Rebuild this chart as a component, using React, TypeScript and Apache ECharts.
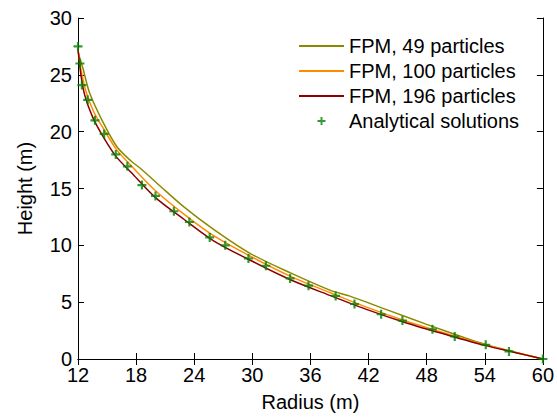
import React, { useEffect, useRef } from "react";
import * as echarts from "echarts";

const xTicks = [12, 18, 24, 30, 36, 42, 48, 54, 60];
const yTicks = [0, 5, 10, 15, 20, 25, 30];

const fpm49: [number, number][] = [
  [12, 27.0], [12.5, 25.6], [13.2, 23.4], [14.6, 20.8], [16, 18.7], [17.5, 17.4],
  [18.4, 16.8], [20.5, 15.2], [22.9, 13.4], [26, 11.4], [29.75, 9.3], [34, 7.55],
  [38, 6.06], [40, 5.55], [44, 4.3], [48, 3.05], [52, 1.85], [54, 1.3], [57, 0.62], [60, 0],
];
const fpm100: [number, number][] = [
  [12, 27.2], [12.3, 25.5], [12.8, 23.6], [13.6, 21.8], [14.6, 20.3], [16, 18.4],
  [17.5, 17.0], [20, 14.8], [23, 12.7], [26, 10.85], [30, 8.95], [34, 7.25],
  [38, 5.85], [42, 4.5], [46, 3.3], [50, 2.25], [54, 1.25], [57, 0.62], [60, 0],
];
const fpm196: [number, number][] = [
  [12, 27.3], [12.3, 25.0], [12.7, 23.2], [13.5, 21.3], [14.5, 19.7], [15.9, 17.85],
  [17.5, 16.4], [20, 14.2], [23, 12.25], [26, 10.4], [30, 8.6], [34, 6.95],
  [38, 5.6], [42, 4.3], [46, 3.15], [50, 2.15], [54, 1.2], [57, 0.6], [60, 0],
];
const analytical: [number, number][] = [
  [12.0, 27.5], [12.2, 26.0], [12.4, 24.1], [13.0, 22.8], [13.75, 21.0], [14.7, 19.8],
  [15.9, 18.0], [17.1, 16.95], [18.6, 15.3], [20.0, 14.35], [21.9, 13.0], [23.5, 12.05],
  [25.6, 10.7], [27.2, 10.0], [29.6, 8.84], [31.4, 8.2], [33.9, 7.09], [35.8, 6.45],
  [38.6, 5.55], [40.55, 4.84], [43.3, 3.94], [45.5, 3.38], [48.6, 2.62], [50.9, 1.98],
  [54.1, 1.25], [56.5, 0.67], [60, 0],
];

const seriesNames = ["FPM, 49 particles", "FPM, 100 particles", "FPM, 196 particles", "Analytical solutions"];
const FONT = "Liberation Sans, Arial, sans-serif";
const PLUS = "path://M0.38,0H0.62V0.38H1V0.62H0.62V1H0.38V0.62H0V0.38H0.38Z";

export default function App() {
  const ref = useRef<HTMLDivElement>(null);
  useEffect(() => {
    if (!ref.current) return;
    const chart = echarts.init(ref.current, undefined, { renderer: "svg" });
    const axisCommon = {
      axisLine: { show: true, lineStyle: { color: "#000", width: 1 } },
      axisTick: { show: true, inside: true, length: 6, lineStyle: { color: "#000" } },
      splitLine: { show: false },
    };
    chart.setOption({
      animation: false,
      backgroundColor: "#fff",
      textStyle: { fontFamily: FONT },
      grid: { left: 78, right: 14, top: 18, bottom: 56 },
      legend: {
        orient: "vertical",
        left: 298,
        top: 36,
        padding: 0,
        itemWidth: 45,
        itemHeight: 8,
        itemGap: 5,
        textStyle: { fontSize: 20, color: "#000", fontFamily: FONT, lineHeight: 20 },
        data: [
          { name: seriesNames[0], itemStyle: { opacity: 0 } },
          { name: seriesNames[1], itemStyle: { opacity: 0 } },
          { name: seriesNames[2], itemStyle: { opacity: 0 } },
          { name: seriesNames[3] },
        ],
      },
      xAxis: [
        {
          type: "value", min: 12, max: 60, interval: 6, position: "bottom",
          name: "Radius (m)", nameLocation: "middle", nameGap: 33,
          nameTextStyle: { fontSize: 20, color: "#000", fontFamily: FONT },
          axisLabel: { fontSize: 20, color: "#000", margin: 10, fontFamily: FONT, lineHeight: 12 },
          ...axisCommon,
        },
        {
          type: "value", min: 12, max: 60, interval: 6, position: "top",
          axisLabel: { show: false }, ...axisCommon,
        },
      ],
      yAxis: [
        {
          type: "value", min: 0, max: 30, interval: 5, position: "left",
          name: "Height (m)", nameLocation: "middle", nameGap: 43,
          nameTextStyle: { fontSize: 20, color: "#000", fontFamily: FONT },
          axisLabel: { fontSize: 20, color: "#000", margin: 6, fontFamily: FONT, lineHeight: 12 },
          ...axisCommon,
        },
        {
          type: "value", min: 0, max: 30, interval: 5, position: "right",
          axisLabel: { show: false }, ...axisCommon,
        },
      ],
      series: [
        {
          name: seriesNames[0], type: "line", data: fpm49, symbol: "none", smooth: 0.3,
          lineStyle: { color: "#8a8a00", width: 1.5 }, itemStyle: { color: "#8a8a00" },
        },
        {
          name: seriesNames[1], type: "line", data: fpm100, symbol: "none", smooth: 0.3,
          lineStyle: { color: "#ff8c00", width: 1.5 }, itemStyle: { color: "#ff8c00" },
        },
        {
          name: seriesNames[2], type: "line", data: fpm196, symbol: "none", smooth: 0.3,
          lineStyle: { color: "#8b0000", width: 1.5 }, itemStyle: { color: "#8b0000" },
        },
        {
          name: seriesNames[3], type: "scatter", data: analytical, symbol: PLUS, symbolSize: 9,
          itemStyle: { color: "#008000" }, z: 5,
        },
      ],
    });
    return () => chart.dispose();
  }, []);
  return <div ref={ref} style={{ width: 557, height: 417, position: "absolute", left: 0, top: 0 }} />;
}
